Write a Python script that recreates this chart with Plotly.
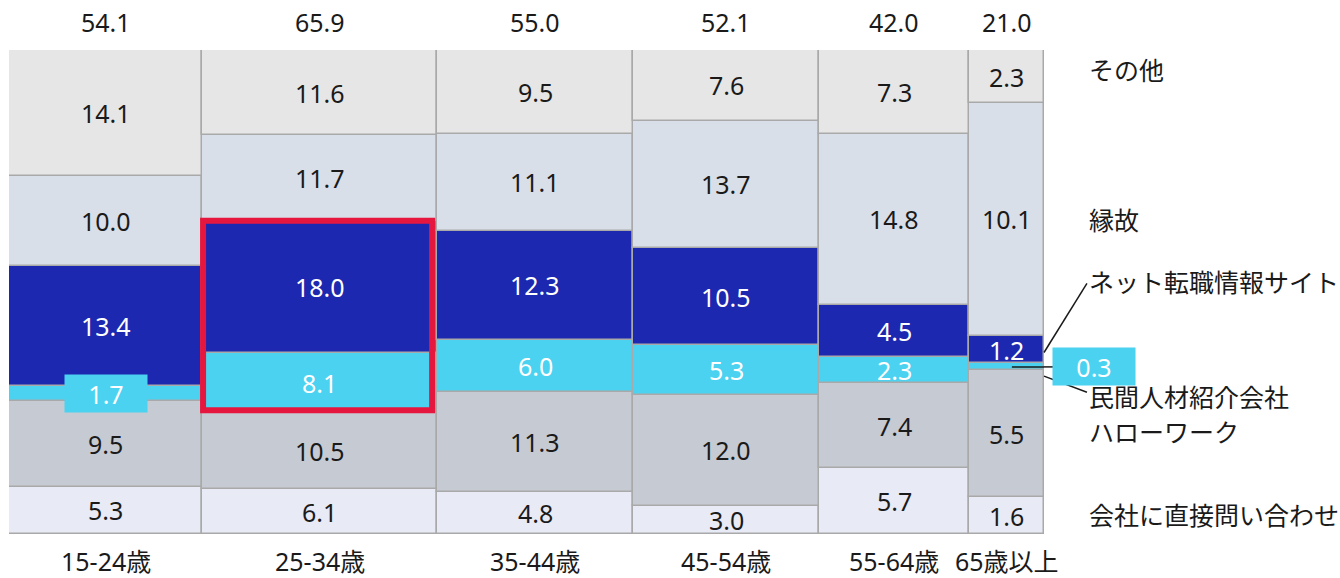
import plotly.graph_objects as go

# Age groups, total per group (column width) and the six search channels (bottom to top)
age_groups = ["15-24歳", "25-34歳", "35-44歳", "45-54歳", "55-64歳", "65歳以上"]
group_totals = [54.1, 65.9, 55.0, 52.1, 42.0, 21.0]

direct_inquiry = [5.3, 6.1, 4.8, 3.0, 5.7, 1.6]
hello_work = [9.5, 10.5, 11.3, 12.0, 7.4, 5.5]
private_agency = [1.7, 8.1, 6.0, 5.3, 2.3, 0.3]
job_sites = [13.4, 18.0, 12.3, 10.5, 4.5, 1.2]
personal_ties = [10.0, 11.7, 11.1, 13.7, 14.8, 10.1]
others = [14.1, 11.6, 9.5, 7.6, 7.3, 2.3]

series_names = ["会社に直接問い合わせ", "ハローワーク", "民間人材紹介会社",
                "ネット転職情報サイト", "縁故", "その他"]
series_values = [direct_inquiry, hello_work, private_agency, job_sites, personal_ties, others]
series_colors = ["#e8eaf5", "#c6cad3", "#4bd2f0", "#1c28b0", "#d9dfe9", "#e6e6e6"]
text_colors = ["#1a1a1a", "#1a1a1a", "#ffffff", "#ffffff", "#1a1a1a", "#1a1a1a"]

FONT = "Noto Sans, Noto Sans CJK JP, sans-serif"
NUM_SIZE = 25
LABEL_SIZE = 25

# column geometry: widths proportional to totals
lefts, widths = [], []
acc = 0.0
for t in group_totals:
    lefts.append(acc)
    widths.append(t)
    acc += t
x_total = acc
centers = [l + w / 2 for l, w in zip(lefts, widths)]

# each column is stacked to 100%
col_sums = [sum(s[i] for s in series_values) for i in range(len(age_groups))]
bases = []
heights = []
running = [0.0] * len(age_groups)
for vals in series_values:
    h = [v / col_sums[i] * 100 for i, v in enumerate(vals)]
    bases.append(running[:])
    heights.append(h)
    running = [running[i] + h[i] for i in range(len(age_groups))]

fig = go.Figure()
for name, b, h, color in zip(series_names, bases, heights, series_colors):
    fig.add_trace(go.Bar(
        x=centers, y=h, base=b, width=widths, name=name,
        marker=dict(color=color, line=dict(color="#a9a9a9", width=1.5)),
        hoverinfo="skip", showlegend=False,
    ))

annotations = []
# segment value labels
small_label_box = {(2, 0): "center", (2, 5): "outside"}
for si, vals in enumerate(series_values):
    for ci, v in enumerate(vals):
        yc = bases[si][ci] + heights[si][ci] / 2
        key = (si, ci)
        if key in small_label_box and small_label_box[key] == "outside":
            continue
        ann = dict(x=centers[ci], y=yc, xref="x", yref="y", text=f"{v:.1f}",
                   showarrow=False,
                   font=dict(family=FONT, size=NUM_SIZE, color=text_colors[si]))
        if key in small_label_box:
            ann.update(bgcolor=series_colors[si], width=80, height=35)
        annotations.append(ann)

# 0.3 label for the oldest group, placed beside the column
oc = 5
yc_small = bases[2][oc] + heights[2][oc] / 2
annotations.append(dict(x=1.0487, y=yc_small, xref="paper", yref="y", xanchor="center",
                        text=f"{private_agency[oc]:.1f}", showarrow=False,
                        bgcolor=series_colors[2], width=80, height=35,
                        font=dict(family=FONT, size=NUM_SIZE, color="#ffffff")))

# column totals on top, age labels below
for ci in range(len(age_groups)):
    annotations.append(dict(x=centers[ci], y=1, xref="x", yref="paper", yanchor="middle",
                            yshift=28, text=f"{group_totals[ci]:.1f}", showarrow=False,
                            font=dict(family=FONT, size=NUM_SIZE, color="#1a1a1a")))
    annotations.append(dict(x=centers[ci], y=0, xref="x", yref="paper", yanchor="middle",
                            yshift=-27, text=age_groups[ci], showarrow=False,
                            font=dict(family=FONT, size=LABEL_SIZE, color="#1a1a1a")))

# channel names on the right
name_y = [3.9, 21.1, 28.3, 52.1, 64.9, 95.9]
for name, yv in zip(series_names, name_y):
    annotations.append(dict(x=1.0415, y=yv, xref="paper", yref="y", xanchor="left",
                            text=name, showarrow=False,
                            font=dict(family=FONT, size=LABEL_SIZE, color="#1a1a1a")))

shapes = []
# highlight frame around job sites + private agency of 25-34
shapes.append(dict(type="rect", xref="x", yref="y",
                   x0=lefts[1] + 0.3, x1=lefts[1] + widths[1] - 1.4,
                   y0=bases[2][1] + 0.4, y1=bases[3][1] + heights[3][1],
                   line=dict(color="#e5173f", width=6), layer="above"))
# leader lines for the narrow segments of the last column
net_mid = bases[3][oc] + heights[3][oc] / 2
agency_low = bases[2][oc] - 1.2
shapes.append(dict(type="line", xref="paper", yref="y", x0=1.0, x1=1.0415,
                   y0=net_mid - 0.6, y1=name_y[3] - 0.3, line=dict(color="#1a1a1a", width=1.5)))
shapes.append(dict(type="line", xref="paper", yref="y", x0=1.0, x1=1.0415,
                   y0=agency_low, y1=name_y[2] + 1.0, line=dict(color="#1a1a1a", width=1.5)))
shapes.append(dict(type="line", xref="x", yref="y", x0=centers[oc] + 1.5, x1=x_total,
                   y0=yc_small, y1=yc_small, line=dict(color="#1a1a1a", width=1.5)))
shapes.append(dict(type="line", xref="paper", yref="y", x0=1.0, x1=1.0115,
                   y0=yc_small, y1=yc_small, line=dict(color="#1a1a1a", width=1.5)))

fig.update_layout(
    width=1340, height=578,
    margin=dict(l=9, r=296, t=50, b=44),
    paper_bgcolor="white", plot_bgcolor="white",
    barmode="overlay", bargap=0,
    xaxis=dict(range=[0, x_total], visible=False, fixedrange=True),
    yaxis=dict(range=[0, 100], visible=False, fixedrange=True),
    annotations=annotations, shapes=shapes,
    font=dict(family=FONT),
)

fig.write_html("out.html")
